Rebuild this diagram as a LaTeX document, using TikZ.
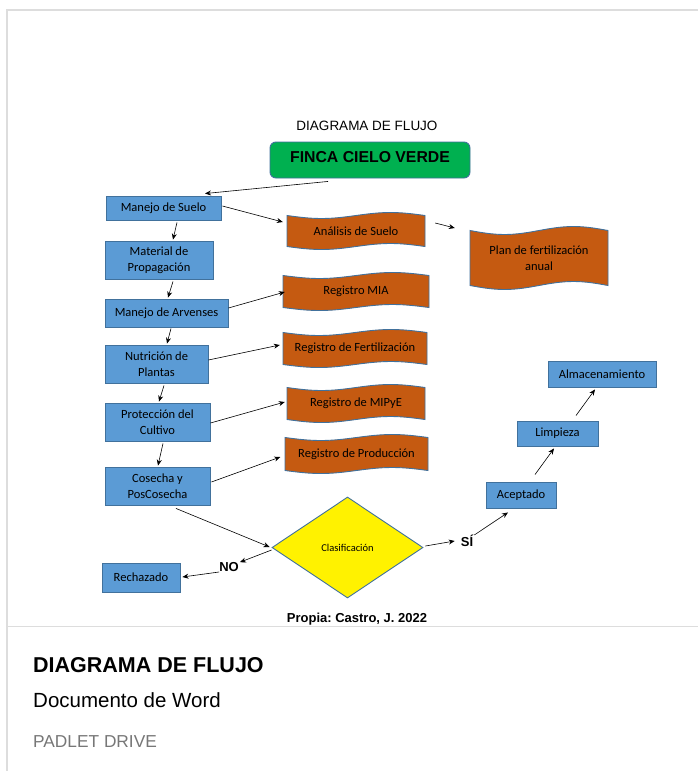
\documentclass[tikz,border=0pt]{standalone}
\usepackage{fontspec}
\setmainfont{Carlito}
\newfontfamily\arialf{Liberation Sans}
\usetikzlibrary{arrows.meta,shapes.geometric}
\frenchspacing
\definecolor{boxblue}{HTML}{5B9BD5}
\definecolor{edgeblue}{HTML}{41719C}
\definecolor{boxorange}{HTML}{C55A11}
\definecolor{boxgreen}{HTML}{00B050}
\definecolor{cardgray}{HTML}{DDDDDD}
\definecolor{subgray}{HTML}{777777}
\tikzset{
  bluebox/.style={draw=edgeblue, fill=boxblue, line width=0.9pt, inner sep=0pt,
    align=center, font=\fontsize{12.5}{16}\selectfont},
  wavetext/.style={inner sep=0pt, align=center, font=\fontsize{12.5}{16}\selectfont},
  waveshape/.style={draw=edgeblue, fill=boxorange, line width=0.9pt},
  arr/.style={-{Stealth[length=6pt,width=5pt]}, line width=0.6pt, black},
  lbl/.style={inner sep=0pt, font=\arialf\bfseries\fontsize{13}{15}\selectfont},
  cardline/.style={draw=cardgray, line width=1.5pt},
}
\newcommand\wavebox[6]{%
  \draw[waveshape] (#2) ++({-#3/2},{-#4/2})
     sin ++({#3/4},{#5}) cos ++({#3/4},{-#5}) sin ++({#3/4},{-#5}) cos ++({#3/4},{#5})
     -- ++(0,{#4})
     sin ++({-#3/4},{-#5}) cos ++({-#3/4},{#5}) sin ++({-#3/4},{#5}) cos ++({-#3/4},{-#5})
     -- cycle;
  \node[wavetext, minimum width=#3, minimum height=#4] (#1) at (#2) {#6};%
}
\begin{document}
\begin{tikzpicture}[x=1pt,y=-1pt]
\useasboundingbox (0,0) rectangle (698,771);
\fill[white] (0,0) rectangle (698,771);
% card frame
\draw[cardline] (7,771) -- (7,10) -- (698,10);
\draw[draw=cardgray, line width=1pt] (7,626) -- (698,626);

% titles
\node[anchor=base, inner sep=0pt, font=\arialf\fontsize{13.5}{15}\selectfont] (title) at (367,130) {DIAGRAMA DE FLUJO};
\node[draw=edgeblue, fill=boxgreen, line width=0.9pt, rounded corners=6pt, minimum width=200, minimum height=36, inner sep=0pt] (finca) at (370,160) {};
\node[anchor=base, inner sep=0pt, font=\arialf\bfseries\fontsize{15.8}{18}\selectfont] (fincatxt) at (370,162.5) {FINCA CIELO VERDE};

% blue boxes
\node[bluebox, minimum width=115, minimum height=24] (ms) at (163.5,208) {Manejo de Suelo};
\node[bluebox, minimum width=108, minimum height=38] (mp) at (159,260) {Material de\\Propagación};
\node[bluebox, minimum width=123, minimum height=28] (arv) at (166.5,313) {Manejo de Arvenses};
\node[bluebox, minimum width=103, minimum height=38] (nut) at (156.5,364) {Nutrición de\\Plantas};
\node[bluebox, minimum width=105, minimum height=38] (prot) at (157.5,422) {Protección del\\Cultivo};
\node[bluebox, minimum width=105, minimum height=38] (cos) at (157.5,486) {Cosecha y\\PosCosecha};
\node[bluebox, minimum width=78, minimum height=29] (rech) at (141,577.5) {Rechazado};
\node[bluebox, minimum width=70, minimum height=26] (acep) at (521,495) {Aceptado};
\node[bluebox, minimum width=81, minimum height=25] (limp) at (557.5,433.5) {Limpieza};
\node[bluebox, minimum width=108, minimum height=26] (alm) at (602,374) {Almacenamiento};

% orange wave shapes
\wavebox{an}{356,231}{138}{31}{3}{Análisis de Suelo}
\wavebox{plan}{539,258}{138}{55}{4}{Plan de fertilización\\anual}
\wavebox{mia}{356,291.5}{146}{32}{3}{Registro MIA}
\wavebox{fert}{355,348.5}{144}{32}{3}{Registro de Fertilización}
\wavebox{mipye}{356,403.5}{138}{32}{3}{Registro de MIPyE}
\wavebox{prod}{356.5,454}{143}{33}{3}{Registro de Producción}

% decision
\node[diamond, draw=edgeblue, fill=yellow, line width=0.9pt, minimum width=151, minimum height=101, inner sep=0pt, font=\fontsize{10.5}{12}\selectfont] (clas) at (347.5,547.5) {Clasificación};
\node[lbl] (no) at (229,567) {NO};
\node[lbl] (si) at (467,541) {SÍ};

\node[anchor=base, inner sep=0pt, font=\arialf\bfseries\fontsize{13}{15}\selectfont] (src) at (357,622) {Propia: Castro, J. 2022};

% card texts
\node[anchor=base west, inner sep=0pt, font=\arialf\bfseries\fontsize{21.5}{24}\selectfont] (cardtitle) at (33,672) {DIAGRAMA DE FLUJO};
\node[anchor=base west, inner sep=0pt, font=\arialf\fontsize{20.5}{24}\selectfont] (cardsub) at (33,707) {Documento de Word};
\node[anchor=base west, inner sep=0pt, text=subgray, font=\arialf\fontsize{17.3}{20}\selectfont] (cardsrc) at (33,747) {PADLET DRIVE};

% connectors
\draw[arr] ([xshift=-42pt,yshift=-3pt]finca.south) -- ([xshift=41.5pt,yshift=2pt]ms.north);
\draw[arr] ([xshift=13.5pt,yshift=-2pt]ms.south) -- ([xshift=14pt,yshift=1pt]mp.north);
\draw[arr] ([xshift=14pt,yshift=-2pt]mp.south) -- ([xshift=1.5pt,yshift=1pt]arv.north);
\draw[arr] ([xshift=4.5pt,yshift=-1pt]arv.south) -- ([xshift=10.5pt,yshift=1pt]nut.north);
\draw[arr] ([xshift=7.5pt,yshift=-2pt]nut.south) -- ([xshift=1.5pt,yshift=1pt]prot.north);
\draw[arr] ([xshift=5.5pt,yshift=-2pt]prot.south) -- ([xshift=0.5pt,yshift=1pt]cos.north);
\draw[arr] ([xshift=18.5pt,yshift=-3pt]cos.south) -- ([xshift=-2pt,yshift=0.5pt]clas.west);
\draw[arr] ([yshift=-2.5pt]clas.west) -- ([xshift=1pt]no.north east);
\draw[arr] ([yshift=-5pt]no.west) -- ([xshift=2pt,yshift=0.5pt]rech.east);
\draw[arr] ([xshift=2pt,yshift=1.5pt]clas.east) -- ([xshift=-6pt]si.west);
\draw[arr] ([xshift=1pt]si.north east) -- ([xshift=-13pt,yshift=-4pt]acep.south);
\draw[arr] ([xshift=14pt,yshift=7pt]acep.north) -- ([xshift=-3.5pt,yshift=-2pt]limp.south);
\draw[arr] ([xshift=18.5pt,yshift=5pt]limp.north) -- ([xshift=-7pt,yshift=-2pt]alm.south);
\draw[arr] ([xshift=1pt,yshift=2pt]ms.east) -- ([xshift=-4pt,yshift=9pt]an.west);
\draw[arr] ([xshift=10pt,yshift=8pt]an.east) -- ([xshift=-15pt,yshift=30pt]plan.west);
\draw[arr] ([yshift=5pt]arv.east) -- ([xshift=2pt,yshift=-0.5pt]mia.west);
\draw[arr] ([yshift=4pt]nut.east) -- ([xshift=-3pt,yshift=3.5pt]fert.west);
\draw[arr] ([yshift=-1pt]prot.east) -- ([xshift=-2pt,yshift=1.5pt]mipye.west);
\draw[arr] ([xshift=1pt,yshift=4pt]cos.east) -- ([xshift=-4.5pt,yshift=-3pt]prod.west);
\end{tikzpicture}
\end{document}
